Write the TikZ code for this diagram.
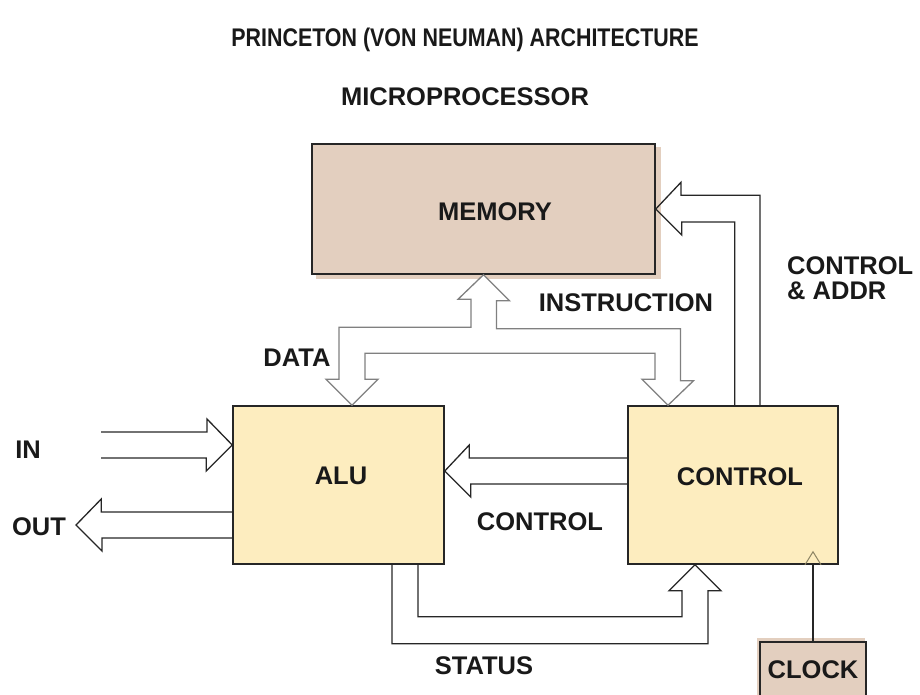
\documentclass[tikz,border=0pt]{standalone}
\usepackage{fontspec}
\setmainfont{Liberation Sans}
\newfontfamily\titlefont[FakeStretch=0.84]{Liberation Sans}
\usetikzlibrary{backgrounds}
\definecolor{memtan}{HTML}{E3CFBF}
\definecolor{unitfill}{HTML}{FDEDBF}
\definecolor{busgray}{HTML}{808080}
\definecolor{clkmark}{HTML}{8C8464}
\tikzset{
  unit/.style={rectangle, draw=black!85, line width=1.5pt, inner sep=0pt},
  bus/.style={draw=black!85, line width=1.3pt, line join=miter},
  lbl/.style={font=\fontsize{25.5}{25}\selectfont\bfseries, text=black!90, inner sep=0pt},
}

\begin{document}
\begin{tikzpicture}[x=1pt, y=-1pt]
  \useasboundingbox (0,0) rectangle (920,694);

  % Titles
  \node[lbl, font=\titlefont\fontsize{25.5}{25}\selectfont\bfseries] (title) at (465,40) {PRINCETON (VON NEUMAN) ARCHITECTURE};
  \node[lbl] (subtitle) at (465,97) {MICROPROCESSOR};

  % Units
  \node[unit, fill=memtan, minimum width=343pt, minimum height=130pt] (memory) at (483.5,209) {};
  \node[unit, fill=unitfill, minimum width=211pt, minimum height=158pt] (alu) at (338.5,485) {};
  \node[unit, fill=unitfill, minimum width=210pt, minimum height=158pt] (control) at (733,485) {};
  \node[unit, fill=memtan, minimum width=106pt, minimum height=58pt] (clock) at (813,671) {};
  \begin{scope}[on background layer]
    \fill[memtan] ([shift={(5,4)}]memory.south west) rectangle ([shift={(5,4)}]memory.north east);
    \fill[memtan] ([shift={(-2,-3)}]clock.south west) rectangle ([shift={(-2,-3)}]clock.north east);
  \end{scope}

  % Unit labels
  \node[lbl] (memlbl) at (495,212) {MEMORY};
  \node[lbl] (alulbl) at (341,476) {ALU};
  \node[lbl] (ctllbl) at (740,477) {CONTROL};
  \node[lbl] (clklbl) at (813,670) {CLOCK};

  % Data / instruction bus
  \coordinate (aluin) at ([xshift=13.5]alu.north);
  \coordinate (ctlin) at ([xshift=-65]control.north);
  \draw[bus, draw=busgray, fill=white] (memory.south) -- ++(26,26) -- ++(-13,0) -- ++(0,28)
    -- ++(184,0) -- ++(0,52) -- ++(13,0) -- (ctlin) -- ++(-26,-26) -- ++(13,0)
    -- ++(0,-26) -- ++(-290,0) -- ++(0,26) -- ++(13,0) -- (aluin) -- ++(-26,-26)
    -- ++(13,0) -- ++(0,-52) -- ++(132,0) -- ++(0,-28) -- ++(-13,0) -- cycle;

  % Control & address bus
  \draw[bus] ([xshift=27]control.north) -- ++(0,-210) -- ++(-79,0) -- ++(0,-13)
    -- (memory.east) -- ++(26,26) -- ++(0,-13) -- ++(53,0) -- ++(0,184);

  % Control to ALU
  \draw[bus] ([yshift=27]control.west) -- ++(-158,0) -- ++(0,-13)
    -- ([yshift=14]alu.east) -- ++(26,26) -- ++(0,-13) -- ++(158,0);

  % Status bus
  \draw[bus] ([xshift=53.5]alu.south) -- ++(0,79) -- ++(316,0) -- ++(0,-53) -- ++(13,0)
    -- ([xshift=-38]control.south) -- ++(-26,26) -- ++(13,0) -- ++(0,26)
    -- ++(-264,0) -- ++(0,-52);

  % In / out
  \coordinate (in1) at (101,432);
  \coordinate (in2) at (101,458);
  \coordinate (outtip) at (76,525);
  \draw[bus] (in1) -- ++(106,0) -- ++(0,-13) -- ([yshift=40]alu.west) -- ++(-26,26)
    -- ++(0,-13) -- (in2);
  \draw[bus] ([yshift=-27]alu.west) -- ++(-131,0) -- ++(0,-13) -- (outtip) -- ++(26,26)
    -- ++(0,-13) -- ++(131,0);

  % Clock
  \coordinate (clkin) at (clock.north |- control.south);
  \draw[bus] (clock.north) -- (clkin);
  \draw[clkmark, line width=1pt] ([xshift=-8]clkin) -- ++(8,-13) -- ++(8,13);

  % Bus labels
  \node[lbl] (datalbl) at (297,358) {DATA};
  \node[lbl] (instlbl) at (626,303) {INSTRUCTION};
  \node[lbl, anchor=west, align=left] (addrlbl) at (787,278.5) {CONTROL\\\& ADDR};
  \node[lbl] (ctlbuslbl) at (540,522) {CONTROL};
  \node[lbl] (statlbl) at (484,666) {STATUS};
  \node[lbl] (inlbl) at (28,450) {IN};
  \node[lbl] (outlbl) at (39,527) {OUT};
\end{tikzpicture}
\end{document}
